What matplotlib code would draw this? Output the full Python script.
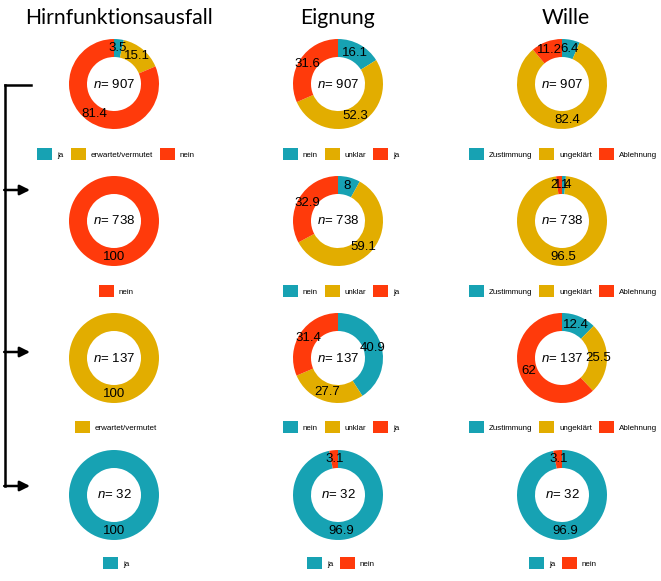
import numpy as np
import matplotlib.pyplot as plt
from matplotlib.patches import Patch

plt.rcParams['font.family'] = ['Liberation Sans', 'DejaVu Sans']
plt.rcParams['mathtext.fontset'] = 'custom'
plt.rcParams['mathtext.it'] = 'Liberation Sans:italic'
plt.rcParams['mathtext.rm'] = 'Liberation Sans'

TEAL = "#17a2b3"
GOLD = "#e2ad00"
RED = "#ff3a0b"

titles = ["Hirnfunktionsausfall", "Eignung", "Wille"]
n_values = [907, 738, 137, 32]

# Hirnfunktionsausfall
hirn_labels = [["ja", "erwartet/vermutet", "nein"], ["nein"], ["erwartet/vermutet"], ["ja"]]
hirn_values = [[3.5, 15.1, 81.4], [100], [100], [100]]
hirn_colors = [[TEAL, GOLD, RED], [RED], [GOLD], [TEAL]]

# Eignung
eig_labels = [["nein", "unklar", "ja"]] * 3 + [["ja", "nein"]]
eig_values = [[16.1, 52.3, 31.6], [8, 59.1, 32.9], [40.9, 27.7, 31.4], [96.9, 3.1]]
eig_colors = [[TEAL, GOLD, RED]] * 3 + [[TEAL, RED]]

# Wille
wil_labels = [["Zustimmung", "ungeklärt", "Ablehnung"]] * 3 + [["ja", "nein"]]
wil_values = [[6.4, 82.4, 11.2], [1.4, 96.5, 2.1], [12.4, 25.5, 62], [96.9, 3.1]]
wil_colors = [[TEAL, GOLD, RED]] * 3 + [[TEAL, RED]]

columns = [(hirn_labels, hirn_values, hirn_colors),
           (eig_labels, eig_values, eig_colors),
           (wil_labels, wil_values, wil_colors)]

W, H = 661, 581
fig = plt.figure(figsize=(W / 100, H / 100), dpi=100)
fig.patch.set_facecolor("white")

# overlay in pixel coordinates for the bracket
bg = fig.add_axes([0, 0, 1, 1])
bg.set_xlim(0, W)
bg.set_ylim(H, 0)
bg.axis("off")

col_x = [114, 338, 562]
leg_x = [116, 341, 563]
title_x = [119, 338, 566]
row_y = [84, 221, 358, 495]
leg_y = [154, 291, 427, 563]
R = 45
hole = 0.6

for ci, t in enumerate(titles):
    fig.text(title_x[ci] / W, 1 - 18 / H, t, ha="center", va="center",
             fontsize=15.2, family=["Lato", "DejaVu Sans"])

for ci, (labs, vals, cols) in enumerate(columns):
    for ri in range(4):
        cx, cy = col_x[ci], row_y[ri]
        ax = fig.add_axes([(cx - R) / W, 1 - (cy + R) / H, 2 * R / W, 2 * R / H])
        wedges, _ = ax.pie(vals[ri], colors=cols[ri], startangle=90, counterclock=False,
                           radius=1, wedgeprops=dict(width=1 - hole, linewidth=0))
        ax.set_xlim(-1, 1)
        ax.set_ylim(-1, 1)
        ax.set_aspect("equal")
        ax.axis("off")
        total = sum(vals[ri])
        cum = 0
        for v in vals[ri]:
            mid = (cum + v / 2) / total
            ang = np.deg2rad(90 - 360 * mid)
            rr = (1 + hole) / 2
            ax.text(rr * np.cos(ang), rr * np.sin(ang), f"{v:g}", ha="center",
                    va="center", fontsize=9.5)
            cum += v
        ax.text(0, 0, f"$n$= {n_values[ri]}", ha="center", va="center", fontsize=9.5)

        handles = [Patch(facecolor=c, edgecolor="none") for c in cols[ri]]
        fig.legend(handles, labs[ri], loc="center", ncol=len(handles),
                   bbox_to_anchor=(leg_x[ci] / W, 1 - leg_y[ri] / H),
                   bbox_transform=fig.transFigure, frameon=False, fontsize=5.8,
                   handlelength=1.85, handleheight=1.85, handletextpad=0.6,
                   columnspacing=0.9, borderpad=0, borderaxespad=0)

# bracket with arrows
lw = 1.8
bg.plot([5, 5], [85, 486], color="black", lw=lw, solid_capstyle="projecting")
bg.plot([5, 31], [85, 85], color="black", lw=lw)
for ay in [190, 352, 486]:
    bg.annotate("", xy=(30, ay), xytext=(4.2, ay),
                arrowprops=dict(arrowstyle="-|>,head_length=0.6,head_width=0.3",
                                color="black", lw=lw, shrinkA=0, shrinkB=0))

fig.savefig("out.png", dpi=100)
